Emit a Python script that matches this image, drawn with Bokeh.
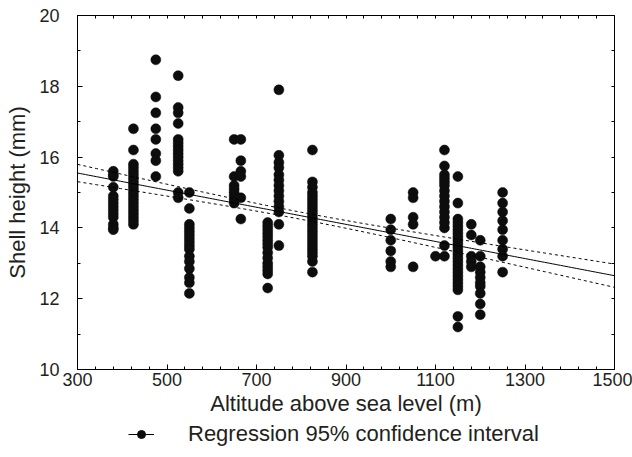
import numpy as np
from bokeh.plotting import figure
from bokeh.layouts import column
from bokeh.models import (LinearAxis, FixedTicker, Legend, LegendItem,
                          ColumnDataSource, Range1d)
from bokeh.embed import file_html
from bokeh.resources import INLINE

# ---- data ----
altitudes = [380, 425, 475, 525, 550, 650, 665, 725, 750, 825,
             1000, 1050, 1100, 1120, 1150, 1180, 1200, 1250]
heights = [
    [15.6, 15.5, 15.45, 15.15, 14.9, 14.8, 14.7, 14.6, 14.5, 14.4, 14.3, 14.1, 14.0, 13.95],
    [16.8, 16.2, 15.8, 15.7, 15.6, 15.5, 15.4, 15.3, 15.2, 15.1, 15.0, 14.9, 14.8, 14.7,
     14.6, 14.5, 14.4, 14.3, 14.2, 14.1],
    [18.75, 17.7, 17.25, 16.8, 16.5, 16.1, 15.9, 15.45],
    [18.3, 17.4, 17.25, 16.95, 16.5, 16.4, 16.3, 16.2, 16.1, 16.0, 15.9, 15.8, 15.7, 15.6,
     15.0, 14.85],
    [15.0, 14.55, 14.1, 14.0, 13.9, 13.8, 13.7, 13.6, 13.5, 13.4, 13.2, 13.05, 12.85,
     12.6, 12.45, 12.15],
    [16.5, 15.45, 15.2, 15.1, 15.0, 14.9, 14.8, 14.7],
    [16.5, 15.9, 15.6, 15.45, 14.85, 14.25],
    [14.15, 14.05, 13.95, 13.85, 13.75, 13.65, 13.55, 13.45, 13.3, 13.15, 13.0, 12.9,
     12.8, 12.7, 12.3],
    [17.9, 16.05, 15.85, 15.7, 15.5, 15.35, 15.2, 15.05, 14.9, 14.75, 14.6, 14.45, 14.1, 13.5],
    [16.2, 15.3, 15.15, 15.0, 14.9, 14.8, 14.7, 14.6, 14.5, 14.4, 14.3, 14.2, 14.1, 14.0,
     13.9, 13.8, 13.7, 13.6, 13.5, 13.4, 13.3, 13.2, 13.05, 12.75],
    [14.25, 13.95, 13.65, 13.35, 13.05, 12.9],
    [15.0, 14.85, 14.3, 14.1, 12.9],
    [13.2],
    [16.2, 15.75, 15.5, 15.4, 15.3, 15.2, 15.05, 14.9, 14.75, 14.6, 14.45, 14.3, 14.15,
     14.0, 13.5, 13.2],
    [15.45, 14.7, 14.25, 14.15, 14.05, 13.95, 13.85, 13.75, 13.65, 13.55, 13.45, 13.35,
     13.25, 13.15, 13.05, 12.95, 12.85, 12.75, 12.65, 12.55, 12.45, 12.35, 12.25, 11.5, 11.2],
    [14.1, 13.8, 13.2, 13.05, 12.9],
    [13.65, 13.2, 12.9, 12.75, 12.6, 12.45, 12.35, 12.15, 11.85, 11.55],
    [15.0, 14.7, 14.45, 14.2, 13.95, 13.65, 13.4, 13.2, 12.75],
]

x_ticks = [300, 500, 700, 900, 1100, 1300, 1500]
y_ticks = [10, 12, 14, 16, 18, 20]
legend_label = "Regression 95% confidence interval"

# regression: height = intercept + slope * altitude
reg_intercept = 16.275
reg_slope = -0.0024167
# 95% CI half-width: sqrt(ci_min_half^2 + ci_curv * (x - ci_center)^2)
ci_center = 800.0
ci_min_half = 0.10
ci_curv = 2.0e-7

X_MIN, X_MAX = 300, 1500
Y_MIN, Y_MAX = 10, 20

# ---- build ----
xs, ys = [], []
for a, hs in zip(altitudes, heights):
    xs.extend([a] * len(hs))
    ys.extend(hs)
pts = ColumnDataSource(dict(x=xs, y=ys))

gx = np.linspace(X_MIN, X_MAX, 200)
gy = reg_intercept + reg_slope * gx
hw = np.sqrt(ci_min_half ** 2 + ci_curv * (gx - ci_center) ** 2)
reg = ColumnDataSource(dict(x=gx, y=gy))

FONT = "Liberation Sans"
TXT = "#231f20"
PT = "#0d0d0d"

p = figure(width=632, height=421, x_range=Range1d(X_MIN, X_MAX),
           y_range=Range1d(Y_MIN, Y_MAX), output_backend="svg",
           toolbar_location=None, min_border_left=77, min_border_right=18,
           min_border_top=15, min_border_bottom=52)
p.grid.visible = False
p.outline_line_color = "black"
p.outline_line_width = 1
p.background_fill_color = "white"
p.border_fill_color = "white"

p.scatter("x", "y", source=pts, size=10, fill_color=PT, line_color=PT, line_width=0.5)
p.line("x", "y", source=reg, line_color="black", line_width=1)
p.line(gx, gy + hw, line_color="black", line_width=1, line_dash="3 3")
p.line(gx, gy - hw, line_color="black", line_width=1, line_dash="3 3")

xminor = list(np.arange(X_MIN, X_MAX + 1, 40))
yminor = list(range(Y_MIN, Y_MAX + 1))

for ax in (p.xaxis[0], p.yaxis[0]):
    ax.major_tick_in = 5
    ax.major_tick_out = 0
    ax.minor_tick_in = 3
    ax.minor_tick_out = 0
    ax.axis_line_color = "black"
    ax.major_tick_line_color = "black"
    ax.minor_tick_line_color = "black"
    ax.major_label_text_font = FONT
    ax.major_label_text_font_size = "18px"
    ax.major_label_text_color = TXT
    ax.axis_label_text_font = FONT
    ax.axis_label_text_font_size = "22px"
    ax.axis_label_text_font_style = "normal"
    ax.axis_label_text_color = TXT

p.xaxis.ticker = FixedTicker(ticks=x_ticks, minor_ticks=xminor)
p.yaxis.ticker = FixedTicker(ticks=y_ticks, minor_ticks=yminor)
p.xaxis.axis_label = "Altitude above sea level (m)"
p.yaxis.axis_label = "Shell height (mm)"
p.xaxis.major_label_standoff = 3
p.xaxis.axis_label_standoff = 2
p.yaxis.major_label_standoff = 18
p.yaxis.axis_label_standoff = 6

right = LinearAxis(ticker=FixedTicker(ticks=yminor), major_label_text_font_size="1px",
                   major_label_text_color=None,
                   major_tick_in=3, major_tick_out=0, minor_tick_in=0, minor_tick_out=0,
                   major_label_standoff=0, axis_line_color="black")
top = LinearAxis(ticker=FixedTicker(ticks=xminor), major_label_text_font_size="1px",
                 major_label_text_color=None,
                 major_tick_in=3, major_tick_out=0, minor_tick_in=0, minor_tick_out=0,
                 major_label_standoff=0, axis_line_color="black")
p.add_layout(right, "right")
p.add_layout(top, "above")

# ---- legend strip (its renderers reuse the data, which lie outside its view) ----
lg = figure(width=632, height=36, output_backend="svg", toolbar_location=None,
            x_axis_type=None, y_axis_type=None, min_border=0,
            x_range=Range1d(0, 1), y_range=Range1d(0, 1))
lg.grid.visible = False
lg.outline_line_color = None
lg.background_fill_color = "white"
lg.border_fill_color = "white"
lg_line = lg.line("x", "y", source=reg, line_color="black", line_width=1)
lg_pt = lg.scatter("x", "y", source=pts, size=10, fill_color=PT, line_color=PT)
legend = Legend(items=[LegendItem(label=legend_label, renderers=[lg_line, lg_pt])],
                location=(51, 10), orientation="horizontal",
                label_text_font=FONT, label_text_font_size="22px",
                label_text_color=TXT, border_line_color=None,
                background_fill_alpha=0, glyph_width=26, glyph_height=20,
                label_standoff=34, padding=0, margin=0, spacing=0)
lg.add_layout(legend, "center")

layout = column(p, lg, spacing=0)
open("out.html", "w").write(file_html(layout, INLINE))
